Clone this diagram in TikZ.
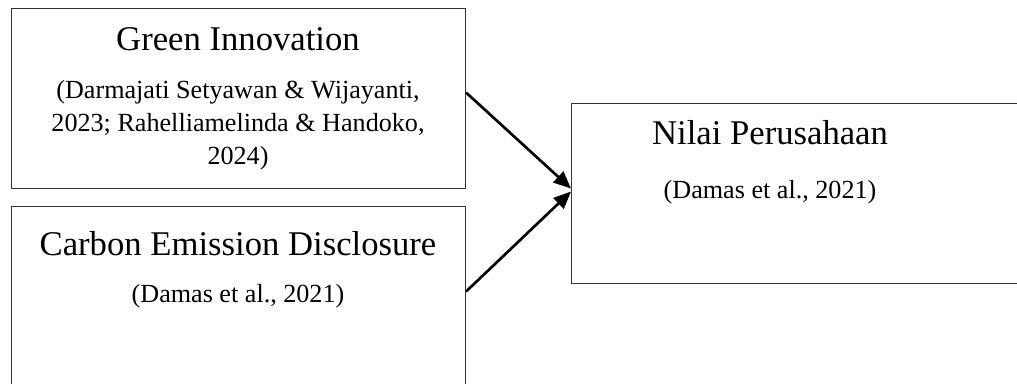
\documentclass[tikz,border=0pt]{standalone}
\usepackage{fontspec}
\setmainfont{Liberation Serif}
\usetikzlibrary{arrows.meta,positioning}

\tikzset{
  varbox/.style={draw=black!80, line width=0.8pt, anchor=north west, inner sep=0pt},
  judul/.style={font=\fontsize{26}{31}\selectfont, anchor=base},
  sumber/.style={font=\fontsize{19.6}{24.4}\selectfont, align=center, anchor=base},
  panah/.style={-{Triangle[length=13pt,width=11pt]}, line width=2pt},
}

\begin{document}
\begin{tikzpicture}[x=0.75pt,y=-0.75pt]
      \useasboundingbox (0,0) rectangle (1017,383);
      \clip (0,0) rectangle (1017,383);

      % kotak variabel
      \node [varbox, minimum width=340.5pt, minimum height=135pt] (gi) at (11,8) {};
      \node [varbox, minimum width=340.5pt, minimum height=150pt] (ced) at (11,206) {};
      \node [varbox, minimum width=366.75pt, minimum height=135pt] (nilai) at (571,103) {};

      % teks
      \node [judul] (gi-judul) at (238,50) {Green Innovation};
      \node [sumber] (gi-sumber) at (238,164) {(Darmajati Setyawan \& Wijayanti,\\2023; Rahelliamelinda \& Handoko,\\2024)};
      \node [judul] (ced-judul) at (238,255) {Carbon Emission Disclosure};
      \node [sumber] (ced-sumber) at (238,302) {(Damas et al., 2021)};
      \node [judul] (nilai-judul) at (770,144) {Nilai Perusahaan};
      \node [sumber] (nilai-sumber) at (770,198) {(Damas et al., 2021)};

      \draw[panah] ([yshift=4.5pt]gi.east) -- ([yshift=3.75pt]nilai.west);
      \draw[panah] ([yshift=11.25pt]ced.east) -- ([yshift=1.5pt]nilai.west);
    \end{tikzpicture}
\end{document}
